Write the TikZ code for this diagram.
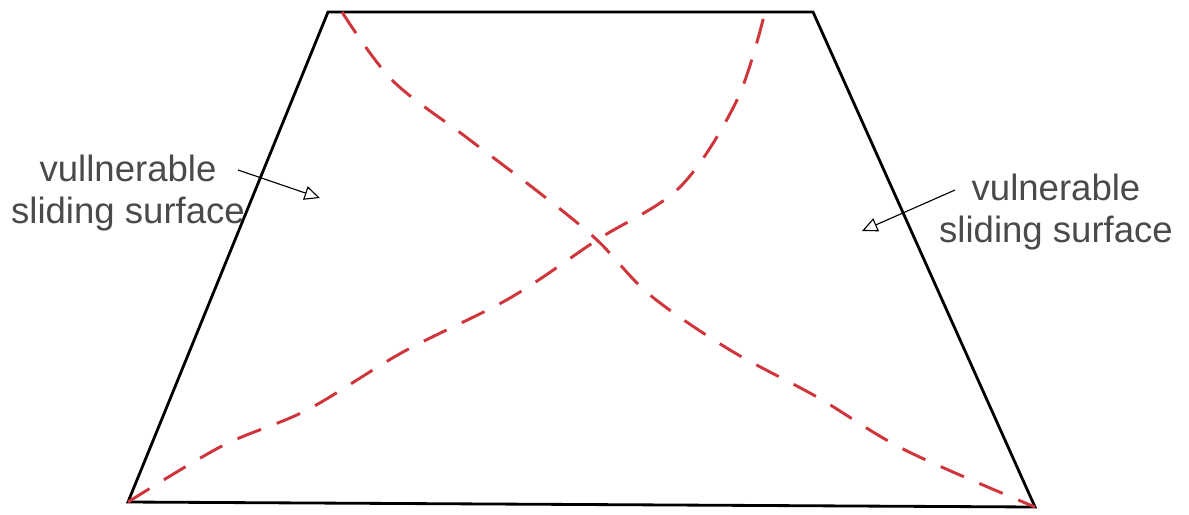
\documentclass[tikz,border=0pt]{standalone}
\usepackage{fontspec}
\setmainfont{Liberation Sans}
\usepackage{xcolor}
\usetikzlibrary{arrows.meta}

\definecolor{slipred}{HTML}{D0353C}
\definecolor{txtgray}{HTML}{4A4A4A}

\begin{document}
\begin{tikzpicture}[
  x=0.025cm,y=-0.025cm,
  every node/.style={font=\fontsize{26}{30}\selectfont,text=txtgray},
  wall/.style={draw=black,line width=2pt,line join=miter},
  slip/.style={draw=slipred,line width=2.1pt,dash pattern=on 18pt off 12pt},
  lbl/.style={align=center,inner sep=0pt},
  ptr/.style={line width=0.8pt,-{Triangle[open,length=11pt,width=10pt]}}
]
\useasboundingbox (0,0) rectangle (1189,514);

%% embankment outline
\coordinate (tl) at (328,12);
\coordinate (tr) at (813,12);
\coordinate (br) at (1035,507);
\coordinate (bl) at (128,502);
\draw[wall] (tl) -- (tr) -- (br) -- (bl) -- cycle;

%% sliding surfaces
\draw[slip] plot[smooth,tension=0.55] coordinates {
  (342,12) (392,80) (466,137) (541,194) (597,240) (650,295)
  (730,350) (817,397) (905,450) (1035,507)};
\draw[slip] plot[smooth,tension=0.55] coordinates {
  (128,502) (222,446) (307,410) (403,352) (510,298) (597,240)
  (680,187) (737,100) (765,12)};

%% labels
\node[lbl] (lv) at (128,193) {vullnerable\\sliding surface};
\node[lbl] (rv) at (1056,212) {vulnerable\\sliding surface};

%% pointers
\coordinate (ls) at (238,170);
\coordinate (le) at (320,198);
\coordinate (rs) at (955,190);
\coordinate (re) at (862,231);
\draw[ptr] (ls) -- (le);
\draw[ptr] (rs) -- (re);

\end{tikzpicture}
\end{document}
